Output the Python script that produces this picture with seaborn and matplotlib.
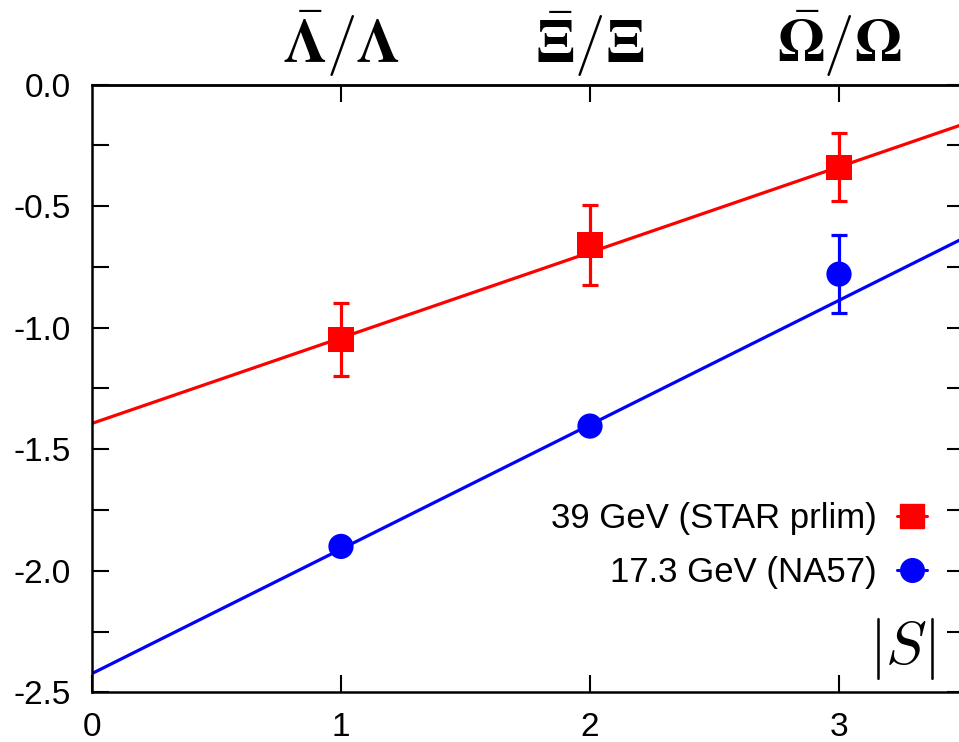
import numpy as np
import matplotlib
matplotlib.use("Agg")
import matplotlib.pyplot as plt
from matplotlib.lines import Line2D
from matplotlib.ticker import MultipleLocator, FormatStrFormatter
import seaborn as sns
import pandas as pd

# strangeness content of each hyperon ratio
strangeness = [1, 2, 3]
ratio_labels = [r"$\bar{\mathbf{Λ}}/\mathbf{Λ}$",
                r"$\bar{\mathbf{Ξ}}/\mathbf{Ξ}$",
                r"$\bar{\mathbf{Ω}}/\mathbf{Ω}$"]

# log of antihyperon/hyperon ratios
star39 = [-1.05, -0.66, -0.34]
star39_err = [0.15, 0.165, 0.14]
na57 = [-1.90, -1.405, -0.78]
na57_err = [0.02, 0.02, 0.16]

# straight-line fits, evaluated at the ends of the |S| range
fit_x = [0.0, 3.5]
star39_fit = [-1.394, -0.163]
na57_fit = [-2.423, -0.632]

series_labels = ["39 GeV (STAR prlim)", "17.3 GeV (NA57)"]
red, blue = "#ff0000", "#0000ff"

sns.set_theme(style="ticks")
plt.rcParams["font.family"] = ["Liberation Sans", "DejaVu Sans"]
plt.rcParams["mathtext.fontset"] = "cm"
plt.rcParams["text.color"] = "black"
plt.rcParams["xtick.color"] = "black"
plt.rcParams["ytick.color"] = "black"

fig = plt.figure(figsize=(9.59, 7.42), dpi=100)
ax = fig.add_axes([0.0959, 0.067, 0.9088, 0.8191])

pts = pd.DataFrame({"S": strangeness * 2,
                    "y": star39 + na57,
                    "set": [series_labels[0]] * 3 + [series_labels[1]] * 3})
fits = pd.DataFrame({"S": fit_x * 2,
                     "y": star39_fit + na57_fit,
                     "set": [series_labels[0]] * 2 + [series_labels[1]] * 2})
palette = {series_labels[0]: red, series_labels[1]: blue}

sns.lineplot(data=fits, x="S", y="y", hue="set", palette=palette,
             linewidth=2.3, legend=False, ax=ax, zorder=2)

ax.errorbar(strangeness, star39, yerr=star39_err, fmt="none", ecolor=red,
            elinewidth=2.3, capsize=5.5, capthick=2.3, zorder=3)
ax.errorbar(strangeness, na57, yerr=na57_err, fmt="none", ecolor=blue,
            elinewidth=2.3, capsize=5.5, capthick=2.3, zorder=3)

sns.scatterplot(data=pts, x="S", y="y", hue="set", style="set",
                markers={series_labels[0]: "s", series_labels[1]: "o"},
                palette=palette, s=330, linewidth=0, legend=False,
                ax=ax, zorder=4)

ax.set_xlim(0, 3.5)
ax.set_ylim(-2.5, 0.0)
ax.set_xlabel("")
ax.set_ylabel("")
ax.set_xticks([0, 1, 2, 3])
ax.yaxis.set_major_locator(MultipleLocator(0.5))
ax.yaxis.set_minor_locator(MultipleLocator(0.25))
ax.yaxis.set_major_formatter(FormatStrFormatter("%.1f"))

for s in ax.spines.values():
    s.set_linewidth(1.8)
    s.set_color("black")

ax.tick_params(axis="both", which="both", direction="in", length=12,
               width=1.5, colors="black", labelsize=24, top=False, right=True)
ax.tick_params(axis="x", pad=14)
ax.tick_params(axis="y", pad=15)
ax.tick_params(axis="y", which="minor", labelleft=False)

top = ax.secondary_xaxis("top")
top.set_xticks(strangeness, labels=ratio_labels)
top.tick_params(direction="in", length=12, width=1.5, labelsize=44, pad=4,
                colors="black")
top.spines["top"].set_linewidth(1.8)

ax.text(0.930, 0.072, r"$|S|$", transform=ax.transAxes, fontsize=44,
        ha="center", va="center")

handles = [Line2D([], [], color=red, marker="s", markersize=17, lw=2.2),
           Line2D([], [], color=blue, marker="o", markersize=17, lw=2.2)]
ax.legend(handles, series_labels, loc="center right",
          bbox_to_anchor=(0.958, 0.241), frameon=False, markerfirst=False,
          fontsize=25, handlelength=0.87, handletextpad=0.58,
          labelspacing=0.6, borderpad=0, borderaxespad=0)

fig.savefig("out.png", dpi=100)
